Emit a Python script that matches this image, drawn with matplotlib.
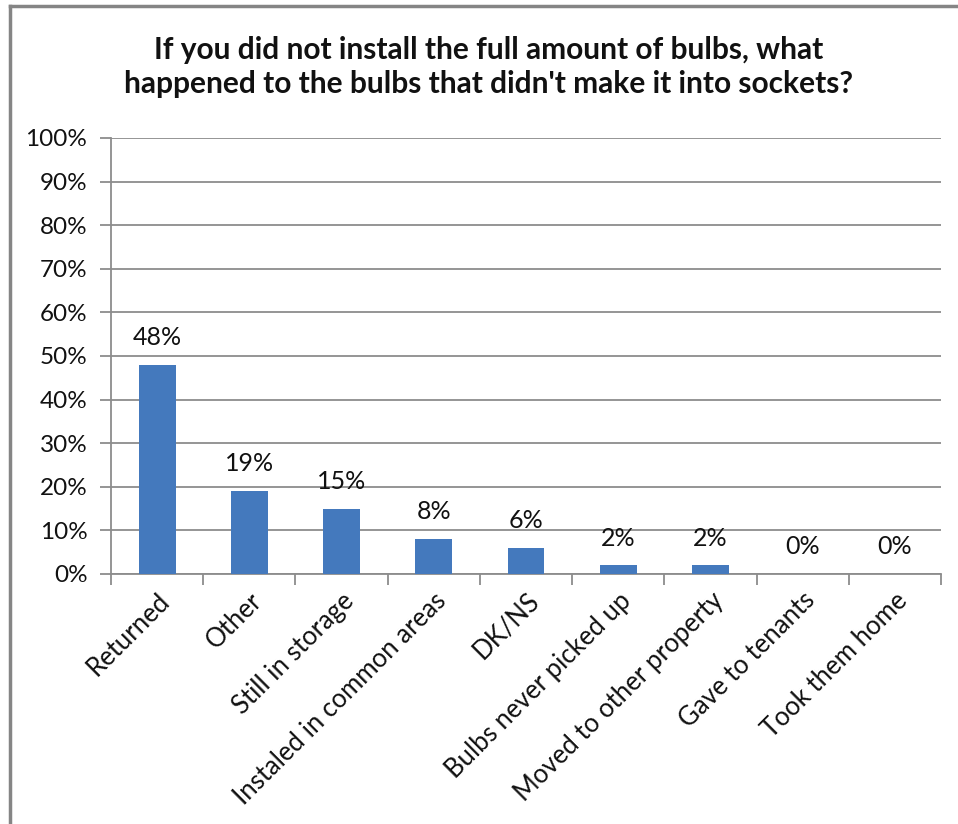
import matplotlib
matplotlib.use("Agg")
import matplotlib.pyplot as plt
from matplotlib.lines import Line2D
from matplotlib.ticker import FixedLocator
from matplotlib.transforms import ScaledTranslation

plt.rcParams['font.family'] = ['Lato', 'DejaVu Sans']

categories = ['Returned', 'Other', 'Still in storage', 'Instaled in common areas',
              'DK/NS', 'Bulbs never picked up', 'Moved to other property',
              'Gave to tenants', 'Took them home']
shares = [48, 19, 15, 8, 6, 2, 2, 0, 0]
y_ticks = list(range(0, 101, 10))

title = ("If you did not install the full amount of bulbs, what\n"
         "happened to the bulbs that didn't make it into sockets?")

bar_color = '#4479BD'
grid_color = '#8C8C8C'
text_color = '#111111'

fig = plt.figure(figsize=(9.58, 8.24), dpi=100)
ax = fig.add_axes([111 / 958, 1 - 574 / 824, 830 / 958, 436 / 824])

x = list(range(len(categories)))
ax.bar(x, shares, width=0.4, color=bar_color, zorder=3)

for xi, v in zip(x, shares):
    ax.text(xi, v + 3.6, f"{v}%", ha='center', va='bottom', fontsize=18,
            color=text_color)

ax.set_xlim(-0.5, len(categories) - 0.5)
ax.set_ylim(0, 100)
ax.set_yticks(y_ticks)
ax.set_yticklabels([f"{t}%" for t in y_ticks], fontsize=17.5, color=text_color)
ax.grid(axis='y', color=grid_color, linewidth=1.3, zorder=0)

ax.set_xticks(x)
labels = ax.set_xticklabels(categories, rotation=45, ha='right',
                            rotation_mode='anchor', fontsize=18.5,
                            color=text_color)
# nudge the slanted labels so their ends sit under the category centres
shift = ScaledTranslation(-8 / 100, 0, fig.dpi_scale_trans)
for lab in labels:
    lab.set_transform(lab.get_transform() + shift)
ax.tick_params(axis='x', which='major', length=0, pad=10)
ax.xaxis.set_minor_locator(FixedLocator([i - 0.5 for i in range(len(categories) + 1)]))
ax.tick_params(axis='x', which='minor', length=8, width=1.3, color=grid_color)
ax.tick_params(axis='y', length=8, width=1.3, color=grid_color, pad=9)

for side in ('top', 'right'):
    ax.spines[side].set_visible(False)
for side in ('left', 'bottom'):
    ax.spines[side].set_color(grid_color)
    ax.spines[side].set_linewidth(1.3)

fig.text(489 / 958, 1 - 67 / 824, title, ha='center', va='center',
         fontsize=21.5, fontweight='bold', linespacing=1.3, color=text_color)

# outer frame: top and left edges
fig.add_artist(Line2D([9.5 / 958, 9.5 / 958], [0, 1 - 5.5 / 824],
                      transform=fig.transFigure, color='#858585', linewidth=2.5))
fig.add_artist(Line2D([9.5 / 958, 1], [1 - 5.5 / 824, 1 - 5.5 / 824],
                      transform=fig.transFigure, color='#858585', linewidth=2.5))

fig.savefig('out.png', dpi=100)
